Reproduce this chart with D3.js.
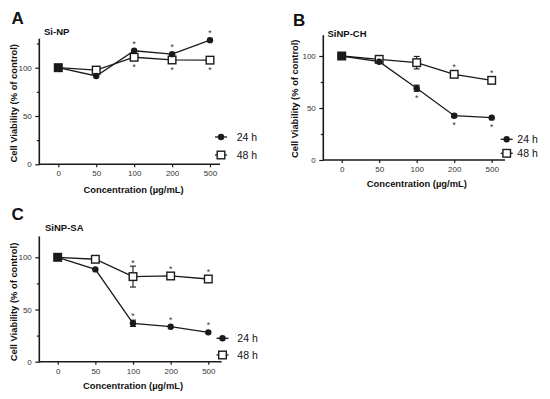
<!DOCTYPE html>
<html>
<head>
<meta charset="utf-8">
<script src="https://cdn.jsdelivr.net/npm/d3@7"></script>
<style>
  body { margin: 0; background: #fff; }
  svg { display: block; font-family: "Liberation Sans", Arial, sans-serif; }
</style>
</head>
<body>
<div id="chart"></div>
<script>
// data
var concentrations = ["0", "50", "100", "200", "500"];
var panelLetters = ["A", "B", "C"];
var panelTitles = ["Si-NP", "SiNP-CH", "SiNP-SA"];
var seriesNames = ["24 h", "48 h"];
var yMax = [130, 120, 120];
var yTickLabels = [0, 50, 100];
var yMinorTicks = [25, 75, 125];

var viab24 = [
  [100, 91.4, 117.5, 114, 128.5],
  [100, 94.5, 69, 42.6, 40.7],
  [100, 88.4, 36.8, 33.5, 28.1]
];
var viab48 = [
  [100, 97.5, 110.8, 108, 107.8],
  [100, 96.8, 93.6, 82.4, 76.6],
  [100, 98.1, 81.5, 82.1, 79.2]
];
var err24 = [
  [0, 0, 0, 0, 0],
  [0, 0, 3, 1.5, 0],
  [0, 0, 3, 0, 0]
];
var err48 = [
  [0, 0, 0, 0, 2.5],
  [0, 0, 6, 0, 0],
  [0, 0, 10, 0, 0]
];
// significance stars: 1 = above the point, -1 = below, 0 = none
var star24 = [
  [0, 0, 1, 1, 1],
  [0, 0, -1, -1, -1],
  [0, 0, 1, 1, 1]
];
var star48 = [
  [0, 0, -1, -1, -1],
  [0, 0, 0, 1, 1],
  [0, 0, 1, 1, 1]
];

// layout of each panel in the 550x399 picture
var layout = [
  {axL: 39.3, axR: 220, first: 58.3, last: 210, bottom: 164.3, top: 38.7,
   letter: [11.5, 24], title: [44, 34.5], xTitle: [133.5, 193], yTitle: [16.7, 103.3],
   legX: 221, legTx: 236.7, legY: [137, 155]},
  {axL: 323.3, axR: 505, first: 341.7, last: 491.7, bottom: 160, top: 35.2,
   letter: [293, 26], title: [327.5, 37], xTitle: [416.8, 187], yTitle: [298.3, 98.8],
   legX: 506.7, legTx: 517.3, legY: [139.3, 153.3]},
  {axL: 39.3, axR: 221.7, first: 57.7, last: 208.3, bottom: 361.7, top: 236.4,
   letter: [11.5, 219.5], title: [45, 230.5], xTitle: [133, 389], yTitle: [16.7, 302],
   legX: 222.5, legTx: 237.3, legY: [338.3, 355]}
];

var width = 550, height = 399;
var ink = "#1a1a1a";

var svg = d3.select("#chart").append("svg")
  .attr("width", width)
  .attr("height", height);

// kind 0 = filled dot (24 h), kind 1 = open square (48 h)
function drawMarker(g, kind, x, y, solid) {
  if (kind == 0) {
    g.append("circle")
      .attr("cx", x).attr("cy", y).attr("r", 3.2)
      .attr("fill", ink);
  } else {
    g.append("rect")
      .attr("x", x - 3.8).attr("y", y - 3.8)
      .attr("width", 7.6).attr("height", 7.6)
      .attr("fill", solid ? ink : "#fff")
      .attr("stroke", ink)
      .attr("stroke-width", 1.4);
  }
}

panelLetters.forEach(function(letter, p) {
  var L = layout[p];
  var g = svg.append("g");

  var x = d3.scalePoint()
    .domain(concentrations)
    .range([L.first, L.last]);

  var y = d3.scaleLinear()
    .domain([0, yMax[p]])
    .range([L.bottom, L.top]);

  // x axis
  var xAxis = g.append("g")
    .attr("transform", "translate(0," + L.bottom + ")")
    .call(d3.axisBottom(x).tickSize(3).tickPadding(3.5));
  xAxis.select(".domain").remove();
  xAxis.selectAll(".tick line").attr("stroke", ink).attr("stroke-width", 1.2);
  xAxis.selectAll(".tick text")
    .attr("fill", "#333")
    .style("font-size", "8px");
  g.append("line")
    .attr("x1", L.axL).attr("x2", L.axR)
    .attr("y1", L.bottom).attr("y2", L.bottom)
    .attr("stroke", ink).attr("stroke-width", 1.6);

  // y axis
  var yAxis = g.append("g")
    .attr("transform", "translate(" + L.axL + ",0)")
    .call(d3.axisLeft(y).tickValues(yTickLabels).tickSize(4).tickPadding(3.5));
  yAxis.select(".domain").remove();
  yAxis.selectAll(".tick line").attr("stroke", ink).attr("stroke-width", 1.2);
  yAxis.selectAll(".tick text")
    .attr("fill", "#333")
    .style("font-size", "8px");

  var minor = g.append("g")
    .attr("transform", "translate(" + L.axL + ",0)")
    .call(d3.axisLeft(y).tickValues(yMinorTicks.filter(function(v) { return v <= yMax[p]; }))
      .tickSize(2.5).tickFormat(""));
  minor.select(".domain").remove();
  minor.selectAll(".tick line").attr("stroke", ink).attr("stroke-width", 1.2);

  g.append("line")
    .attr("x1", L.axL).attr("x2", L.axL)
    .attr("y1", L.bottom + 0.8).attr("y2", y(yMax[p]))
    .attr("stroke", ink).attr("stroke-width", 1.6);

  // labels
  g.append("text")
    .attr("x", L.letter[0]).attr("y", L.letter[1])
    .style("font-size", "17px").style("font-weight", "700")
    .attr("fill", "#111")
    .text(letter);

  g.append("text")
    .attr("x", L.title[0]).attr("y", L.title[1])
    .style("font-size", "9.5px").style("font-weight", "700")
    .attr("fill", "#111")
    .text(panelTitles[p]);

  g.append("text")
    .attr("x", L.xTitle[0]).attr("y", L.xTitle[1])
    .attr("text-anchor", "middle")
    .style("font-size", "9.4px").style("font-weight", "700")
    .attr("fill", "#111")
    .text("Concentration (\u00b5g/mL)");

  g.append("text")
    .attr("transform", "translate(" + L.yTitle[0] + "," + L.yTitle[1] + ") rotate(-90)")
    .attr("text-anchor", "middle")
    .style("font-size", "9.4px").style("font-weight", "700")
    .attr("fill", "#111")
    .text("Cell Viability (% of control)");

  // series: 48 h drawn first so the 24 h dots sit on top
  var series = [
    {vals: viab48[p], err: err48[p], star: star48[p], kind: 1, other: viab24[p]},
    {vals: viab24[p], err: err24[p], star: star24[p], kind: 0, other: viab48[p]}
  ];

  var line = d3.line()
    .x(function(d, i) { return x(concentrations[i]); })
    .y(function(d) { return y(d); });

  series.forEach(function(s) {
    g.append("path")
      .datum(s.vals)
      .attr("d", line)
      .attr("fill", "none")
      .attr("stroke", ink)
      .attr("stroke-width", 1.3);
  });

  series.forEach(function(s) {
    s.vals.forEach(function(v, i) {
      var cx = x(concentrations[i]);
      if (s.err[i] > 0) {
        var y1 = y(v + s.err[i]), y2 = y(v - s.err[i]);
        g.append("line")
          .attr("x1", cx).attr("x2", cx).attr("y1", y1).attr("y2", y2)
          .attr("stroke", ink).attr("stroke-width", 1.1);
        [y1, y2].forEach(function(yy) {
          g.append("line")
            .attr("x1", cx - 3).attr("x2", cx + 3).attr("y1", yy).attr("y2", yy)
            .attr("stroke", ink).attr("stroke-width", 1.1);
        });
      }
      // where both series coincide the square is covered by the dot and reads as solid
      drawMarker(g, s.kind, cx, y(v), s.other[i] == v);
      if (s.star[i] != 0) {
        var off = Math.max(y(v) - y(v + s.err[i]), 4) + 4.5;
        var cy = y(v) - s.star[i] * off;
        g.append("text")
          .attr("x", cx).attr("y", cy + 4.3)
          .attr("text-anchor", "middle")
          .style("font-size", "8.5px")
          .attr("fill", "#333")
          .text("*");
      }
    });
  });

  // legend
  seriesNames.forEach(function(name, j) {
    var ly = L.legY[j];
    g.append("line")
      .attr("x1", L.legX - 6).attr("x2", L.legX + 6)
      .attr("y1", ly).attr("y2", ly)
      .attr("stroke", ink).attr("stroke-width", 1.3);
    drawMarker(g, j, L.legX, ly, false);
    g.append("text")
      .attr("x", L.legTx).attr("y", ly)
      .attr("dy", "0.36em")
      .style("font-size", "10.5px")
      .attr("fill", "#111")
      .text(name);
  });
});
</script>
</body>
</html>
